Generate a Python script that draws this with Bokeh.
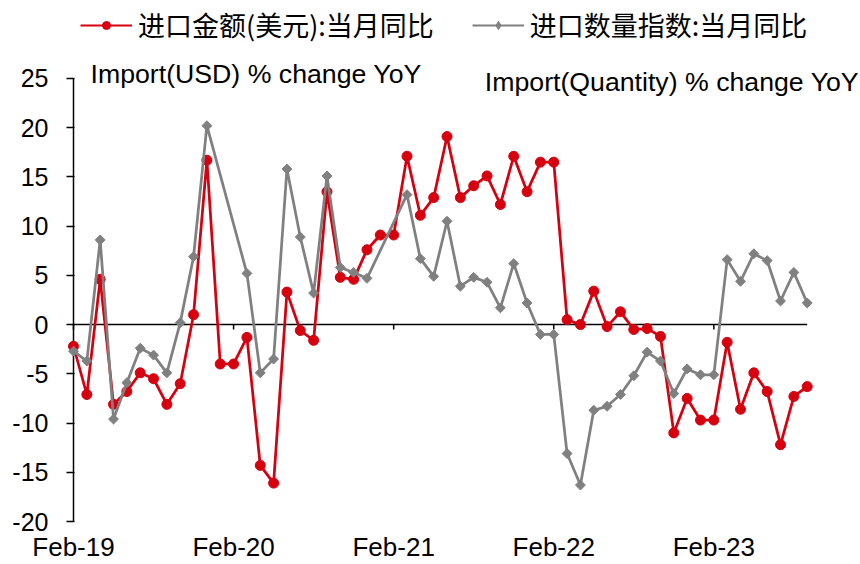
import numpy as np
import pandas as pd
from bokeh.plotting import figure
from bokeh.models import (Range1d, LinearAxis, FixedTicker, Label, Legend, LegendItem)
from bokeh.embed import file_html
from bokeh.resources import INLINE

# ---------------- data ----------------
months = list(pd.date_range("2019-02-01", periods=56, freq="MS").strftime("%b-%y"))

import_usd_yoy = [-2.2, -7.1, 4.6, -8.1, -6.8, -4.9, -5.5, -8.1, -6.0, 1.0,
                  16.7, -4.0, -4.0, -1.3, -14.3, -16.1, 3.3, -0.6, -1.6, 13.5,
                  4.8, 4.6, 7.6, 9.1, 9.1, 17.1, 11.1, 12.9, 19.1, 12.9,
                  14.1, 15.1, 12.2, 17.1, 13.5, 16.5, 16.5, 0.5, 0.0, 3.4,
                  -0.2, 1.3, -0.5, -0.4, -1.2, -11.0, -7.5, -9.7, -9.7, -1.8,
                  -8.6, -4.9, -6.8, -12.2, -7.3, -6.3]

import_qty_yoy = [-2.7, -3.7, 8.6, -9.6, -5.9, -2.4, -3.1, -4.9, 0.2, 6.9,
                  20.2, None, None, 5.2, -4.9, -3.5, 15.8, 8.9, 3.2, 15.1,
                  5.8, 5.3, 4.7, None, None, 13.2, 6.7, 4.9, 10.5, 3.9,
                  4.8, 4.3, 1.7, 6.2, 2.2, -1.0, -1.0, -13.1, -16.3, -8.7,
                  -8.3, -7.1, -5.2, -2.8, -3.7, -7.0, -4.5, -5.1, -5.1, 6.6,
                  4.4, 7.2, 6.5, 2.4, 5.3, 2.2]

legend_labels = ["进口金额(美元):当月同比", "进口数量指数:当月同比"]
annotation_texts = ["Import(USD) % change YoY", "Import(Quantity) % change YoY"]
y_ticks = [-20, -15, -10, -5, 0, 5, 10, 15, 20, 25]

# ---------------- derived ----------------
x = list(range(len(months)))
qx = [i for i, v in zip(x, import_qty_yoy) if v is not None]
qy = [v for v in import_qty_yoy if v is not None]
tick_idx = [i for i, m in enumerate(months) if m.startswith("Feb")]

RED = "#D7000F"
GRAY = "#808080"
LATIN = "Liberation Sans"
NAN = [float("nan")]

# frame covers top and right of the canvas so that legend / labels are not clipped
p = figure(width=860, height=564,
           x_range=Range1d(-0.525, 58.995), y_range=Range1d(y_ticks[0], 32.92),
           output_backend="svg", toolbar_location=None,
           x_axis_location=None, y_axis_location=None,
           min_border_left=66, min_border_top=0, min_border_right=0, min_border_bottom=43)
p.xgrid.visible = False
p.ygrid.visible = False
p.outline_line_color = None
p.background_fill_color = "white"
p.border_fill_color = "white"

# bottom axis: labels only
xlab = LinearAxis(ticker=FixedTicker(ticks=tick_idx),
                  major_label_overrides={i: months[i] for i in tick_idx},
                  axis_line_color=None, major_tick_line_color=None,
                  major_tick_out=0, major_tick_in=0, minor_tick_line_color=None,
                  major_label_standoff=10,
                  major_label_text_font=LATIN, major_label_text_font_size="26px",
                  major_label_text_color="black")
p.add_layout(xlab, "below")

# left axis: labels + ticks (ticks reach to the axis line at the first category)
yax = LinearAxis(ticker=FixedTicker(ticks=y_ticks),
                 major_label_overrides={t: str(t) for t in y_ticks},
                 axis_line_color=None, major_tick_in=8, major_tick_out=0,
                 minor_tick_line_color=None,
                 major_tick_line_color="black", major_tick_line_width=1.5,
                 major_label_standoff=18,
                 major_label_text_font=LATIN, major_label_text_font_size="25px",
                 major_label_text_color="black")
p.add_layout(yax, "left")

# y axis line at first category, zero line, ticks on zero line
p.line([x[0], x[0]], [y_ticks[0], y_ticks[-1]], line_color="black", line_width=1.5)
p.line([x[0], x[-1]], [0, 0], line_color="black", line_width=1.5)
p.segment(x0=tick_idx, y0=[0] * len(tick_idx), x1=tick_idx, y1=[-0.5] * len(tick_idx),
          line_color="black", line_width=1.5)

# series
p.line(x, import_usd_yoy, line_color=RED, line_width=2.75)
p.scatter(x, import_usd_yoy, marker="circle", size=10, fill_color=RED, line_color=RED)
p.line(qx, qy, line_color=GRAY, line_width=2.75)
p.scatter(qx, qy, marker="square", angle=np.pi / 4, size=7, fill_color=GRAY, line_color=GRAY)

# legend (legend-only glyphs, no visible data)
l1 = p.line(NAN, NAN, line_color=RED, line_width=2)
l1s = p.scatter(NAN, NAN, marker="circle", size=9, fill_color=RED, line_color=RED)
l2 = p.line(NAN, NAN, line_color=GRAY, line_width=2)
l2s = p.scatter(NAN, NAN, marker="diamond", size=9, fill_color=GRAY, line_color=GRAY)
legend = Legend(items=[LegendItem(label=legend_labels[0], renderers=[l1, l1s]),
                       LegendItem(label=legend_labels[1], renderers=[l2, l2s])],
                orientation="horizontal", location=(14, 477),
                glyph_width=52, glyph_height=20, label_standoff=6, spacing=38,
                padding=0, margin=0, background_fill_alpha=0, border_line_color=None,
                label_text_font="Noto Sans CJK SC", label_text_font_size="27px",
                label_text_color="black")
p.add_layout(legend, "center")

# annotations
p.add_layout(Label(x=24, y=447.7, x_units="screen", y_units="screen",
                   text=annotation_texts[0], text_font=LATIN, text_font_size="26.7px",
                   text_baseline="alphabetic", text_color="black"))
p.add_layout(Label(x=418.3, y=439.3, x_units="screen", y_units="screen",
                   text=annotation_texts[1], text_font=LATIN, text_font_size="26.7px",
                   text_baseline="alphabetic", text_color="black"))

open("out.html", "w").write(file_html(p, INLINE))
